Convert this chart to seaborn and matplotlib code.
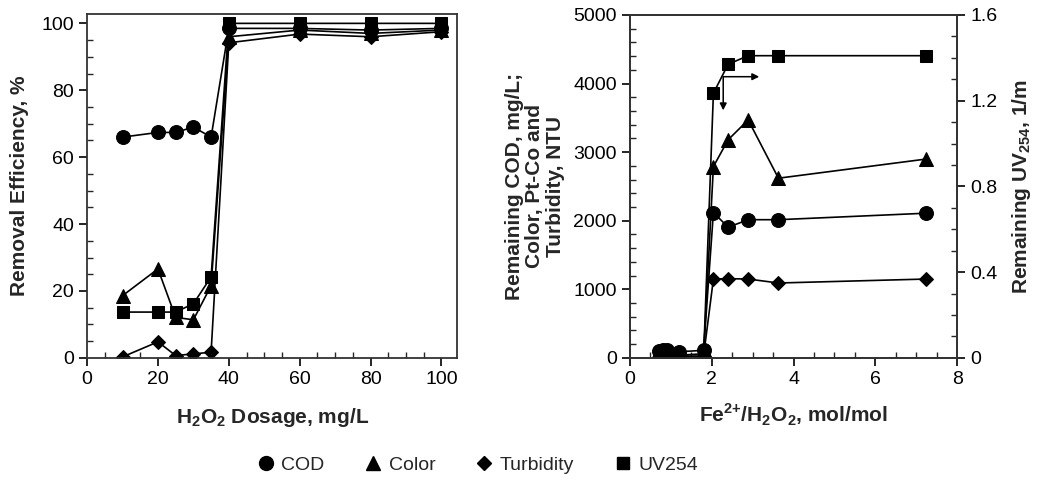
import matplotlib
matplotlib.use("Agg")
import matplotlib.pyplot as plt
import seaborn as sns
import numpy as np
import pandas as pd
from matplotlib.lines import Line2D
from matplotlib.ticker import MultipleLocator

# ---------------- data ----------------
# Left panel: removal efficiency vs H2O2 dosage
h2o2_dose = [10, 20, 25, 30, 35, 40, 60, 80, 100]
eff_cod = [66.0, 67.4, 67.4, 69.0, 66.0, 98.5, 98.5, 98.0, 98.5]
eff_color = [18.6, 26.6, 12.1, 11.4, 21.6, 96.0, 98.0, 97.0, 98.0]
eff_turbidity = [0.3, 4.8, 0.7, 1.2, 1.7, 94.2, 96.8, 96.0, 97.5]
eff_uv254 = [13.7, 13.7, 13.7, 16.2, 24.2, 100.0, 100.0, 100.0, 100.0]

# Right panel: remaining values vs Fe2+/H2O2 ratio
fe_ratio = [0.7, 0.8, 0.9, 1.2, 1.8, 2.04, 2.40, 2.89, 3.63, 7.25]
rem_cod = [100, 110, 120, 90, 110, 2120, 1905, 2015, 2015, 2110]
rem_color = [40, 50, 60, 40, 60, 2790, 3180, 3470, 2620, 2900]
rem_turbidity = [20, 30, 20, 20, 30, 1150, 1155, 1150, 1092, 1150]
rem_uv254 = [0.01, 0.02, 0.02, 0.01, 0.005, 1.235, 1.37, 1.41, 1.41, 1.41]

series_names = ["COD", "Color", "Turbidity", "UV254"]
series_markers = ["o", "^", "D", "s"]
series_sizes = [10, 10, 7.5, 8]

# annotation arrows (origin, right-end, down-end) in data units
arrow_origin = (2.28, 4100)
arrow_right_end = (3.16, 4100)
arrow_down_end = (2.28, 3610)

# ---------------- style ----------------
sns.set_style("ticks")
plt.rcParams["font.family"] = ["Liberation Sans", "DejaVu Sans"]
plt.rcParams["mathtext.fontset"] = "custom"
plt.rcParams["mathtext.rm"] = "Liberation Sans"
plt.rcParams["mathtext.bf"] = "Liberation Sans:bold"
plt.rcParams["axes.linewidth"] = 1.3

fig = plt.figure(figsize=(10.37, 4.83), dpi=100)
ax1 = fig.add_axes([0.084, 0.259, 0.357, 0.712])
ax2 = fig.add_axes([0.6075, 0.259, 0.3155, 0.710])
ax3 = ax2.twinx()

LABEL_FS = 15
TICK_FS = 14

def style_ticks(ax, axis="both"):
    ax.tick_params(axis=axis, which="major", direction="out", length=6, width=1.2,
                   labelsize=TICK_FS, colors="black")
    ax.tick_params(axis=axis, which="minor", direction="in", length=4, width=1.0)

# ---- left panel ----
left_vals = [eff_cod, eff_color, eff_turbidity, eff_uv254]
for name, vals, mk, ms in zip(series_names, left_vals, series_markers, series_sizes):
    sns.lineplot(x=h2o2_dose, y=vals, ax=ax1, color="black", marker=mk, markersize=ms,
                 markeredgecolor="black", linewidth=1.2, sort=False)
ax1.set_xlim(0, 104.5)
ax1.set_ylim(0, 102.8)
ax1.xaxis.set_major_locator(MultipleLocator(20))
ax1.xaxis.set_minor_locator(MultipleLocator(5))
ax1.yaxis.set_major_locator(MultipleLocator(20))
ax1.yaxis.set_minor_locator(MultipleLocator(5))
style_ticks(ax1)
ax1.set_xlabel(r"H$_\mathbf{2}$O$_\mathbf{2}$ Dosage, mg/L", fontsize=LABEL_FS,
               fontweight="bold", labelpad=13)
ax1.set_ylabel("Removal Efficiency, %", fontsize=LABEL_FS, fontweight="bold", labelpad=9)
for s in ax1.spines.values():
    s.set_visible(True)
    s.set_color("#333333")

# ---- right panel ----
right_vals = [rem_cod, rem_color, rem_turbidity]
for name, vals, mk, ms in zip(series_names[:3], right_vals, series_markers[:3], series_sizes[:3]):
    sns.lineplot(x=fe_ratio, y=vals, ax=ax2, color="black", marker=mk, markersize=ms,
                 markeredgecolor="black", linewidth=1.2, sort=False)
sns.lineplot(x=fe_ratio, y=rem_uv254, ax=ax3, color="black", marker=series_markers[3],
             markersize=series_sizes[3], markeredgecolor="black", linewidth=1.2, sort=False)

ax2.set_xlim(0, 8)
ax2.set_ylim(0, 5000)
ax3.set_ylim(0, 1.6)
ax2.xaxis.set_major_locator(MultipleLocator(2))
ax2.xaxis.set_minor_locator(MultipleLocator(0.5))
ax2.yaxis.set_major_locator(MultipleLocator(1000))
ax2.yaxis.set_minor_locator(MultipleLocator(200))
ax3.yaxis.set_major_locator(MultipleLocator(0.4))
ax3.yaxis.set_minor_locator(MultipleLocator(0.1))
style_ticks(ax2)
style_ticks(ax3, axis="y")
ax3.set_yticks([0, 0.4, 0.8, 1.2, 1.6])
ax3.set_yticklabels(["0", "0.4", "0.8", "1.2", "1.6"])
for s in list(ax2.spines.values()) + list(ax3.spines.values()):
    s.set_visible(True)
    s.set_color("#333333")

ax2.set_xlabel(r"Fe$^{\mathbf{2{+}}}$/H$_\mathbf{2}$O$_\mathbf{2}$, mol/mol", fontsize=LABEL_FS,
               fontweight="bold", labelpad=10)
ax2.set_ylabel("Remaining COD, mg/L;\nColor, Pt-Co and\nTurbidity, NTU", fontsize=LABEL_FS,
               fontweight="bold", labelpad=6, linespacing=1.1)
ax3.set_ylabel(r"Remaining UV$_\mathbf{254}$, 1/m", fontsize=LABEL_FS, fontweight="bold",
               labelpad=9)

# arrows
ax2.annotate("", xy=arrow_right_end, xytext=arrow_origin,
             arrowprops=dict(arrowstyle="-|>", color="black", lw=1.1, mutation_scale=10,
                             shrinkA=0, shrinkB=0))
ax2.annotate("", xy=arrow_down_end, xytext=arrow_origin,
             arrowprops=dict(arrowstyle="-|>", color="black", lw=1.1, mutation_scale=10,
                             shrinkA=0, shrinkB=0))

# ---- legend ----
handles = [Line2D([], [], linestyle="none", marker=mk, color="black", markersize=ms)
           for mk, ms in zip(series_markers, series_sizes)]
fig.legend(handles, series_names, loc="center", bbox_to_anchor=(0.46, 0.037), ncol=4,
           frameon=False, fontsize=14, handletextpad=0.3, columnspacing=2.0,
           handlelength=1.0)

fig.savefig("out.png", dpi=100)
